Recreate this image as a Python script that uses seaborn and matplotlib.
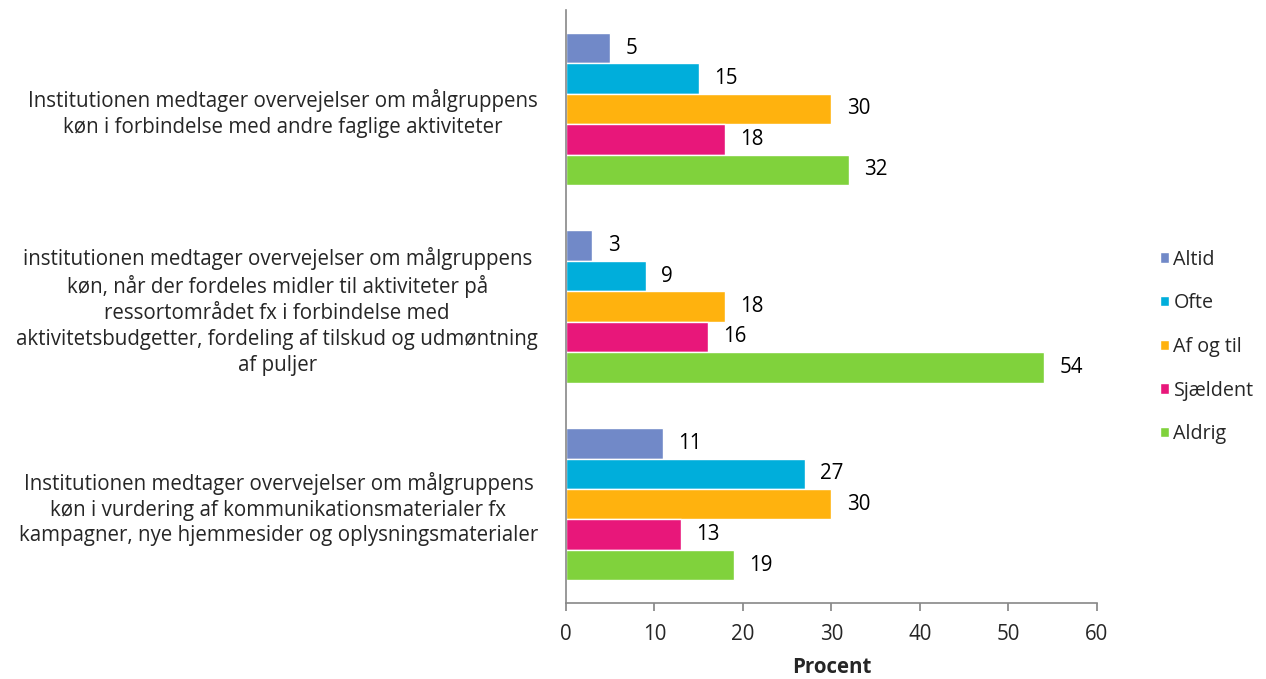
import pandas as pd
import matplotlib
matplotlib.use("Agg")
import matplotlib.pyplot as plt
import seaborn as sns

statements = [
    "Institutionen medtager overvejelser om målgruppens\nkøn i forbindelse med andre faglige aktiviteter",
    "institutionen medtager overvejelser om målgruppens\nkøn, når der fordeles midler til aktiviteter på\nressortområdet fx i forbindelse med\naktivitetsbudgetter, fordeling af tilskud og udmøntning\naf puljer",
    "Institutionen medtager overvejelser om målgruppens\nkøn i vurdering af kommunikationsmaterialer fx\nkampagner, nye hjemmesider og oplysningsmaterialer",
]
answers = ["Altid", "Ofte", "Af og til", "Sjældent", "Aldrig"]
altid = [5, 3, 11]
ofte = [15, 9, 27]
af_og_til = [30, 18, 30]
sjaeldent = [18, 16, 13]
aldrig = [32, 54, 19]
colors = ["#7189C8", "#00AEDB", "#FFB20E", "#E8177A", "#80D23C"]

rows = []
for vals, ans in zip([altid, ofte, af_og_til, sjaeldent, aldrig], answers):
    for st, v in zip(statements, vals):
        rows.append({"statement": st, "answer": ans, "pct": v})
df = pd.DataFrame(rows)

sns.set_theme(style="white")
plt.rcParams["font.family"] = ["Open Sans", "DejaVu Sans"]
fs = 14.8

fig = plt.figure(figsize=(12.66, 6.79), dpi=100)
ax = fig.add_axes([0.447, 0.112, 0.4195, 0.873])

sns.barplot(data=df, y="statement", x="pct", hue="answer", hue_order=answers,
            order=statements, palette=colors, orient="h", width=0.77,
            saturation=1, ax=ax, errorbar=None)

for cont in ax.containers:
    ax.bar_label(cont, padding=11, fontsize=fs, color="black")

ax.set_xlim(0, 60)
ax.set_xticks(range(0, 61, 10))
ax.set_xlabel("Procent", fontsize=fs, fontweight="bold", labelpad=9)
ax.set_ylabel("")
ax.tick_params(axis="x", labelsize=fs, length=6, direction="out", color="#888888", bottom=True, pad=9)
ax.tick_params(axis="y", labelsize=fs, length=0, pad=20)
for lbl in ax.get_yticklabels():
    lbl.set_multialignment("center")
    lbl.set_linespacing(1.3)

for side in ["top", "right"]:
    ax.spines[side].set_visible(False)
for side in ["left", "bottom"]:
    ax.spines[side].set_color("#888888")
    ax.spines[side].set_linewidth(1.2)

ax.legend(loc="center left", bbox_to_anchor=(1.118, 0.432), frameon=False,
          fontsize=fs - 0.6, handlelength=0.45, handleheight=0.45, handletextpad=0.25,
          labelspacing=1.2, borderpad=0, borderaxespad=0)

fig.savefig("out.png", dpi=100)
